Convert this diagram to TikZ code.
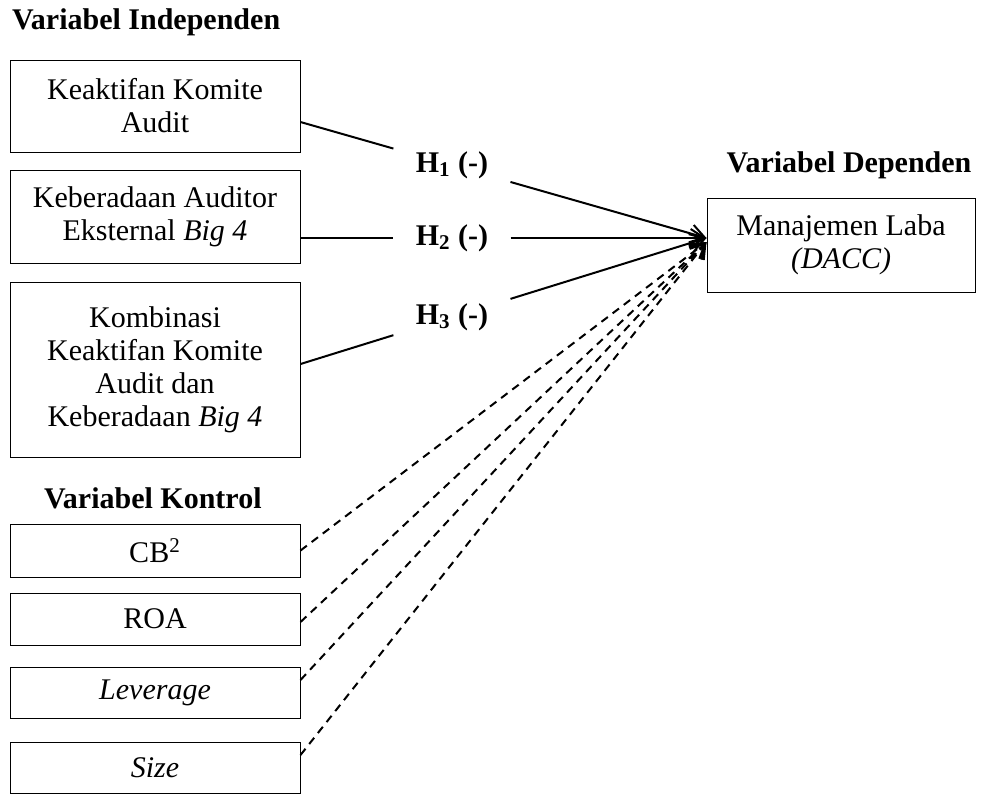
\documentclass[tikz,border=0pt]{standalone}
\usepackage{fontspec}
\setmainfont{Liberation Serif}
\usetikzlibrary{calc,arrows.meta}

\begin{document}
\begin{tikzpicture}[x=0.5pt,y=-0.5pt,>={Straight Barb[length=7pt,width=9pt]},
    font=\fontsize{15}{16.5}\selectfont,
    varbox/.style={draw,line width=.5pt,minimum width=145pt,align=center,inner sep=2pt},
    judul/.style={font=\fontsize{15}{16.5}\selectfont\bfseries},
    hyp/.style={font=\fontsize{15}{16.5}\selectfont\bfseries,inner xsep=11pt,inner ysep=3pt},
    jalur/.style={line width=1pt},
    kontrol/.style={line width=1pt,dash pattern=on 4pt off 3pt}]
    \useasboundingbox (0,0) rectangle (988,794);

    % variabel independen
    \node[judul,anchor=west] (jind) at (5,22) {Variabel Independen};
    \node[varbox,minimum height=46pt] (k1) at (155,106) {Keaktifan Komite\\Audit};
    \node[varbox,minimum height=46.5pt] (k2) at (155,216.5) {Keberadaan Auditor\\Eksternal \textit{Big 4}};
    \node[varbox,minimum height=87.5pt] (k3) at (155,369.5) {Kombinasi\\Keaktifan Komite\\Audit dan\\Keberadaan \textit{Big 4}};

    % variabel kontrol
    \node[judul,anchor=west] (jkon) at (37,498) {Variabel Kontrol};
    \node[varbox,minimum height=26.5pt] (cb) at (155,550.5) {CB\textsuperscript{2}};
    \node[varbox,minimum height=26pt] (roa) at (155,619) {ROA};
    \node[varbox,minimum height=25.5pt] (lev) at (155,692.5) {\textit{Leverage}};
    \node[varbox,minimum height=25.5pt] (size) at (155,767.5) {\textit{Size}};

    % variabel dependen
    \node[judul] (jdep) at (849,165) {Variabel Dependen};
    \node[varbox,minimum width=134pt,minimum height=47pt] (dep) at (841,245) {Manajemen Laba\\\textit{(DACC)}};

    \coordinate (tip) at ([yshift=3.5pt]dep.west);
    \coordinate (tipk) at ([yshift=1.5pt]dep.west);
    \coordinate (a1) at ([yshift=-8pt]k1.east);
    \coordinate (a2) at ([yshift=-10.75pt]k2.east);
    \coordinate (a3) at ([yshift=2.75pt]k3.east);

    \node[hyp] (h1) at ($(a1)!.373!(tip)$) {H\textsubscript{1} (-)};
    \node[hyp] (h2) at ($(a2)!.373!(tip)$) {H\textsubscript{2} (-)};
    \node[hyp] (h3) at ($(a3)!.373!(tip)$) {H\textsubscript{3} (-)};

    \foreach \i in {1,2,3} {
      \draw[jalur] (a\i) -- (h\i);
      \draw[jalur,->] (h\i) -- (tip);
    }

    \foreach \nama/\dy in {cb/0,roa/-1.5,lev/6.25,size/6.25} {
      \draw[kontrol,->] ([yshift=\dy pt]\nama.east) -- (tipk);
    }
\end{tikzpicture}
\end{document}
